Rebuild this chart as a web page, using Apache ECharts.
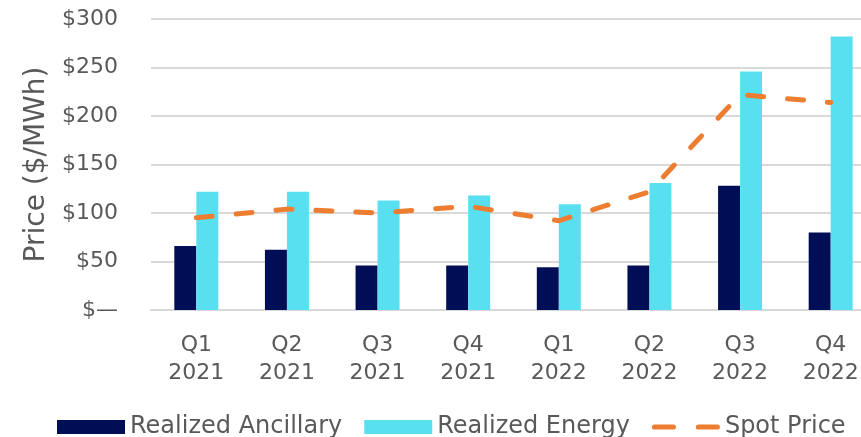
<!DOCTYPE html>
<html>
<head>
<meta charset="utf-8">
<script src="https://cdn.jsdelivr.net/npm/echarts@6/dist/echarts.min.js"></script>
<style>
  html, body { margin: 0; padding: 0; background: #fff; }
  #chart { width: 861px; height: 437px; overflow: hidden; }
</style>
</head>
<body>
<div id="chart"></div>
<script>
// Quarterly realized prices vs. spot price ($/MWh)
const quarters = ['Q1\n2021', 'Q2\n2021', 'Q3\n2021', 'Q4\n2021', 'Q1\n2022', 'Q2\n2022', 'Q3\n2022', 'Q4\n2022'];
const realizedAncillary = [66, 62, 46, 46, 44, 46, 128, 80];
const realizedEnergy = [122, 122, 113, 118, 109, 131, 246, 282];
const spotPrice = [95, 104, 100, 107, 92, 122, 222, 214];
const yTicks = [0, 50, 100, 150, 200, 250, 300];

const textColor = '#595959';
const font = 'DejaVu Sans, Verdana, sans-serif';
const dashIcon = 'path://M2.5,4.5H20.5A2.5,2.5 0 0 1 20.5,9.5H2.5A2.5,2.5 0 0 1 2.5,4.5Z' +
  'M44.5,4.5H62.5A2.5,2.5 0 0 1 62.5,9.5H44.5A2.5,2.5 0 0 1 44.5,4.5Z';

const chart = echarts.init(document.getElementById('chart'), null, { renderer: 'canvas' });
chart.setOption({
  animation: false,
  backgroundColor: '#ffffff',
  // plot area runs past the right edge of the canvas
  grid: { left: 151, width: 725, top: 19, bottom: 127, containLabel: false, outerBoundsMode: 'none' },
  legend: {
    bottom: -7,
    left: 52,
    itemGap: 22,
    itemWidth: 68,
    itemHeight: 14,
    textStyle: { color: textColor, fontSize: 24, fontFamily: font },
    data: [
      { name: 'Realized Ancillary', icon: 'rect' },
      { name: 'Realized Energy', icon: 'rect' },
      { name: 'Spot Price', icon: dashIcon, itemStyle: { color: '#ED7D31' }, lineStyle: { opacity: 0 } }
    ]
  },
  xAxis: {
    type: 'category',
    data: quarters,
    axisLine: { lineStyle: { color: '#d9d9d9', width: 2 } },
    axisTick: { show: false },
    axisLabel: { color: textColor, fontSize: 22, fontFamily: font, lineHeight: 28, margin: 21 }
  },
  yAxis: {
    type: 'value',
    min: yTicks[0],
    max: yTicks[yTicks.length - 1],
    interval: 50,
    name: 'Price ($/MWh)',
    nameLocation: 'middle',
    nameGap: 100,
    nameRotate: 90,
    nameTextStyle: { color: textColor, fontSize: 28, fontFamily: font },
    axisLine: { show: false },
    axisTick: { show: false },
    splitLine: { lineStyle: { color: '#d9d9d9', width: 2 } },
    axisLabel: {
      color: textColor, fontSize: 22, fontFamily: font, margin: 33,
      formatter: v => v === 0 ? '$—' : '$' + v
    }
  },
  series: [
    {
      name: 'Realized Ancillary',
      type: 'bar',
      data: realizedAncillary,
      barWidth: 22,
      barGap: '0%',
      itemStyle: { color: '#000F55' }
    },
    {
      name: 'Realized Energy',
      type: 'bar',
      data: realizedEnergy,
      barWidth: 22,
      barGap: '0%',
      itemStyle: { color: '#59E0F0' }
    },
    {
      name: 'Spot Price',
      type: 'line',
      data: spotPrice,
      symbol: 'none',
      z: 5,
      lineStyle: { color: '#ED7D31', width: 5, type: [16, 24], cap: 'round' },
      itemStyle: { color: '#ED7D31' }
    }
  ]
});
</script>
</body>
</html>
